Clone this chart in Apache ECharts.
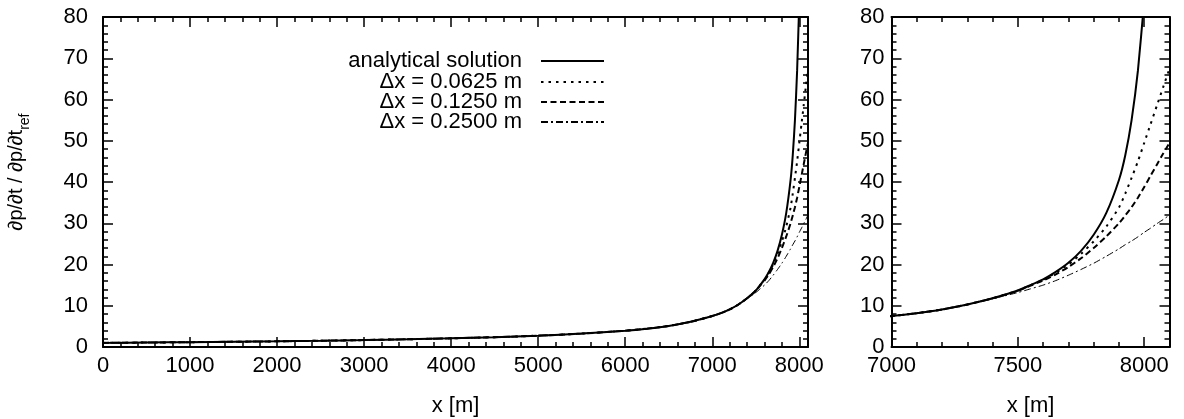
<!DOCTYPE html>
<html>
<head>
<meta charset="utf-8">
<script src="https://cdn.jsdelivr.net/npm/echarts@6/dist/echarts.min.js"></script>
<style>
html,body{margin:0;padding:0;background:#fff;}
#chart{width:1184px;height:419px;}
</style>
</head>
<body>
<div id="chart"></div>
<script>
// ---- data ----
const seriesNames = ['analytical solution', '\u0394x = 0.0625 m', '\u0394x = 0.1250 m', '\u0394x = 0.2500 m'];
const xs = [0, 500, 1000, 1500, 2000, 2500, 3000, 3500, 4000, 4500, 5000, 5500, 6000, 6250, 6500, 6750,
            7000, 7100, 7200, 7300, 7400, 7500, 7550, 7600, 7650, 7700, 7750, 7800, 7850, 7900, 7925,
            7950, 7975, 8000, 8025, 8050, 8075, 8100];
const yAnalytical = [1.0, 1.08, 1.17, 1.27, 1.38, 1.52, 1.68, 1.88, 2.1, 2.38, 2.75, 3.25, 3.95, 4.45, 5.1, 6.1,
            7.5, 8.2, 9.1, 10.3, 11.8, 13.7, 15.0, 16.4, 18.2, 20.4, 23.3, 27.2, 32.5, 40.5, 46.5,
            55, 67, 84, null, null, null, null];
const yDx0625 = [1.0, 1.08, 1.17, 1.27, 1.38, 1.52, 1.68, 1.88, 2.1, 2.38, 2.75, 3.25, 3.95, 4.45, 5.1, 6.1,
            7.5, 8.2, 9.1, 10.3, 11.8, 13.7, 15.0, 16.3, 18.0, 20.0, 22.6, 25.6, 29.2, 33.8, 37.2,
            41.0, 45.0, 49.5, 54.0, 58.5, 63.0, 67.5];
const yDx1250 = [1.0, 1.08, 1.17, 1.27, 1.38, 1.52, 1.68, 1.88, 2.1, 2.38, 2.75, 3.25, 3.95, 4.45, 5.1, 6.1,
            7.5, 8.2, 9.1, 10.3, 11.8, 13.6, 14.9, 16.1, 17.6, 19.4, 21.5, 24.0, 26.8, 30.0, 31.9,
            33.9, 36.2, 38.8, 41.5, 44.2, 46.9, 49.5];
const yDx2500 = [1.0, 1.08, 1.17, 1.27, 1.38, 1.52, 1.68, 1.88, 2.1, 2.38, 2.75, 3.25, 3.95, 4.45, 5.1, 6.1,
            7.5, 8.2, 9.1, 10.3, 11.7, 13.2, 14.1, 15.0, 16.1, 17.4, 18.8, 20.3, 22.0, 23.8, 24.8,
            25.7, 26.7, 27.8, 28.8, 29.9, 30.9, 32.0];
const yTicks = [0, 10, 20, 30, 40, 50, 60, 70, 80];
const leftXRange = [0, 8100];
const rightXRange = [7000, 8100];

// ---- styling ----
const FONT = '"Liberation Sans", Arial, Helvetica, sans-serif';
const BLACK = '#000';
const lineStyles = [
  {color: BLACK, width: 2, type: 'solid'},
  {color: BLACK, width: 2, type: [2.5, 5]},
  {color: BLACK, width: 2, type: [6, 3.5]},
  {color: BLACK, width: 1, type: [7, 3, 2, 3]}
];
const yData = [yAnalytical, yDx0625, yDx1250, yDx2500];

function pairs(arr) {
  const out = [];
  for (let i = 0; i < xs.length; i++) out.push([xs[i], arr[i]]);
  return out;
}
const plain = v => String(v);

const gridL = {left: 103, top: 17, width: 705, height: 330, outerBoundsMode: 'none', containLabel: false};
const gridR = {left: 891.5, top: 17, width: 278, height: 330, outerBoundsMode: 'none', containLabel: false};

function xMajor(gridIndex, range, interval, position, withLabels) {
  return {
    type: 'value', gridIndex, position, min: range[0], max: range[1], interval,
    axisLine: {show: true, onZero: false, lineStyle: {color: BLACK, width: 2}},
    axisTick: {show: true, inside: true, length: 10, lineStyle: {color: BLACK, width: 1.5}},
    axisLabel: {show: withLabels, showMaxLabel: false, margin: 8, color: BLACK, fontSize: 22, fontFamily: FONT, formatter: plain},
    splitLine: {show: false},
    name: withLabels ? 'x [m]' : '',
    nameLocation: 'middle', nameGap: 48,
    nameTextStyle: {color: BLACK, fontSize: 22, fontFamily: FONT}
  };
}
function xMinor(gridIndex, range, interval, position) {
  return {
    type: 'value', gridIndex, position, min: range[0], max: range[1], interval,
    axisLine: {show: false, onZero: false},
    axisTick: {show: true, inside: true, length: 5, lineStyle: {color: BLACK, width: 1.5}},
    axisLabel: {show: false},
    splitLine: {show: false}
  };
}
function yMajor(gridIndex, position, withLabels, margin, withName) {
  return {
    type: 'value', gridIndex, position, min: yTicks[0], max: yTicks[yTicks.length - 1], interval: yTicks[1] - yTicks[0],
    axisLine: {show: true, onZero: false, lineStyle: {color: BLACK, width: 2}},
    axisTick: {show: true, inside: true, length: 10, lineStyle: {color: BLACK, width: 1.5}},
    minorTick: {show: true, splitNumber: 5, length: 5, lineStyle: {color: BLACK, width: 1.5}},
    axisLabel: {show: withLabels, margin, color: BLACK, fontSize: 22, fontFamily: FONT, formatter: plain},
    splitLine: {show: false},
    name: withName ? '{m|\u2202p/\u2202t / \u2202p/\u2202t}{s|ref}' : '',
    nameLocation: 'middle', nameGap: 75, nameRotate: 90,
    nameTextStyle: {
      color: BLACK, fontFamily: FONT, fontSize: 20, padding: [0, 0, 0, 20],
      rich: {
        m: {fontSize: 20, fontFamily: FONT, color: BLACK, verticalAlign: 'top', lineHeight: 22},
        s: {fontSize: 14, fontFamily: FONT, color: BLACK, verticalAlign: 'top', lineHeight: 14, padding: [12, 0, 0, 0]}
      }
    }
  };
}
function yHidden(gridIndex) {
  return {type: 'value', gridIndex, min: 0, max: 80, show: false};
}

const series = [];
seriesNames.forEach((name, i) => {
  [[0, 0], [4, 3]].forEach(([xi, yi]) => {
    series.push({
      type: 'line', name, xAxisIndex: xi, yAxisIndex: yi,
      data: pairs(yData[i]), symbol: 'none', showSymbol: false,
      smooth: 0.2, connectNulls: false, clip: true,
      lineStyle: lineStyles[i], itemStyle: {color: BLACK},
      z: 10 - i, animation: false
    });
  });
});

const legendCenters = [61, 82, 102, 122];
const legends = seriesNames.map((name, i) => ({
  data: [name], orient: 'horizontal', align: 'right', right: 579, top: legendCenters[i] - 11,
  padding: 0, itemWidth: 63, itemHeight: 14, selectedMode: false,
  itemStyle: {opacity: 0, borderWidth: 0},
  textStyle: {color: BLACK, fontSize: 22, fontFamily: FONT, padding: [0, 14, 0, 0], lineHeight: 22}
}));

const option = {
  backgroundColor: '#fff',
  animation: false,
  grid: [gridL, gridL, gridR, gridR],
  xAxis: [
    xMajor(0, leftXRange, 1000, 'bottom', true),
    xMajor(0, leftXRange, 1000, 'top', false),
    xMinor(1, leftXRange, 200, 'bottom'),
    xMinor(1, leftXRange, 200, 'top'),
    xMajor(2, rightXRange, 500, 'bottom', true),
    xMajor(2, rightXRange, 500, 'top', false),
    xMinor(3, rightXRange, 100, 'bottom'),
    xMinor(3, rightXRange, 100, 'top')
  ],
  yAxis: [
    yMajor(0, 'left', true, 15, true),
    yMajor(0, 'right', false, 8, false),
    yHidden(1),
    yMajor(2, 'left', true, 7, false),
    yMajor(2, 'right', false, 8, false),
    yHidden(3)
  ],
  legend: legends,
  series
};

const chart = echarts.init(document.getElementById('chart'), null, {renderer: 'canvas'});
chart.setOption(option);
</script>
</body>
</html>
